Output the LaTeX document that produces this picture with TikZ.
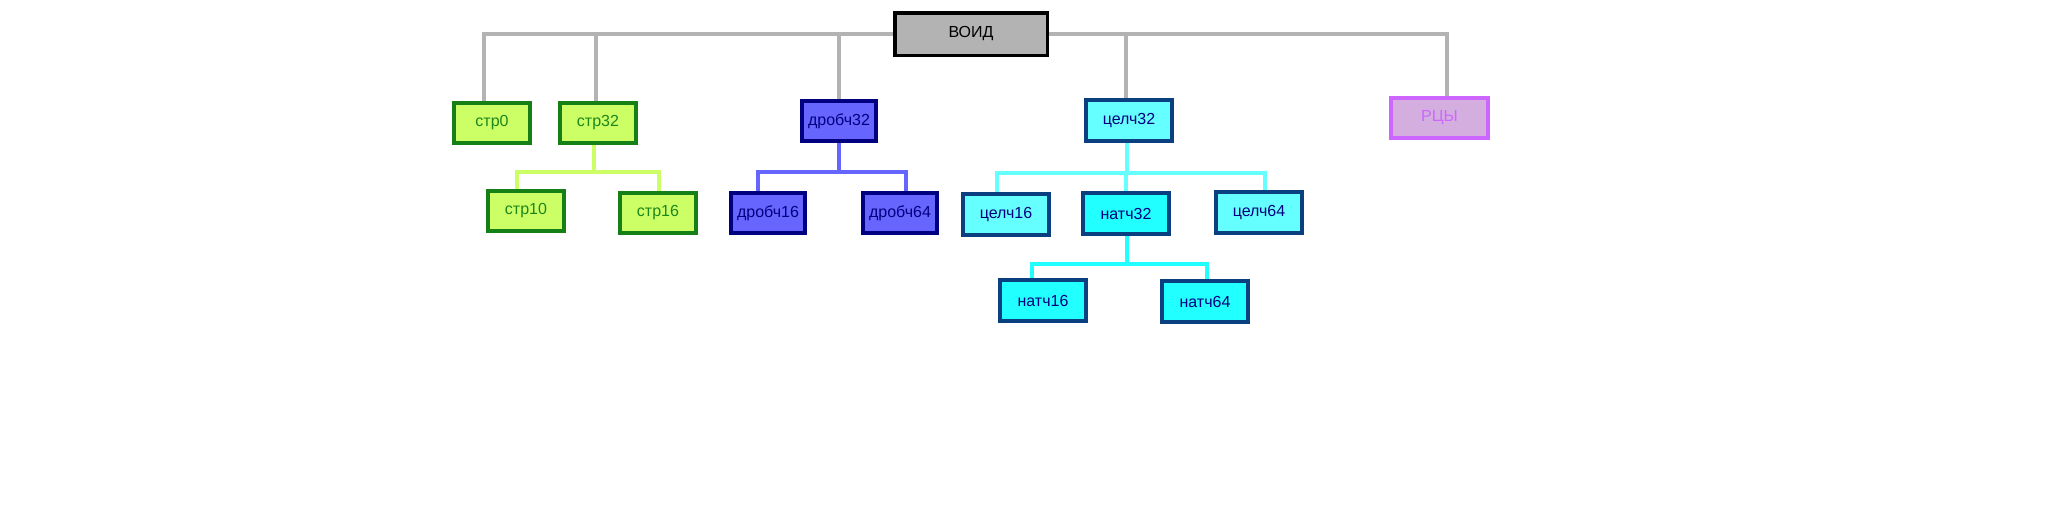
\documentclass[tikz,border=0pt]{standalone}
\usepackage{fontspec}
\setmainfont{Liberation Sans}
\usetikzlibrary{backgrounds}
\definecolor{gline}{HTML}{B3B3B3}
\definecolor{strfill}{HTML}{CCFF66}
\definecolor{strdraw}{HTML}{158015}
\definecolor{strtext}{HTML}{1C861C}
\definecolor{drfill}{HTML}{6666FF}
\definecolor{drdraw}{HTML}{000080}
\definecolor{clfill}{HTML}{66FFFF}
\definecolor{cldraw}{HTML}{0A4080}
\definecolor{ntfill}{HTML}{22FFFF}
\definecolor{rcfill}{HTML}{D5AEE0}
\definecolor{rcdraw}{HTML}{CC66FF}
\tikzset{
  box/.style={rectangle, inner sep=0pt, line width=4pt, font=\fontsize{16}{19}\selectfont},
  strbox/.style={box, fill=strfill, draw=strdraw, text=strtext, minimum width=76pt, minimum height=40pt},
  drbox/.style={box, fill=drfill, draw=drdraw, text=drdraw, minimum width=74pt, minimum height=40pt},
  clbox/.style={box, fill=clfill, draw=cldraw, text=drdraw, minimum width=86pt, minimum height=41pt},
  ntbox/.style={clbox, fill=ntfill},
  rcbox/.style={box, fill=rcfill, draw=rcdraw, text=rcdraw, minimum width=97pt, minimum height=40pt},
  voidbox/.style={box, fill=gline, draw=black, text=black, line width=3.5pt, minimum width=152.5pt, minimum height=42.5pt},
  gconn/.style={draw=gline, line width=4pt},
  sconn/.style={draw=strfill, line width=4pt},
  dconn/.style={draw=drfill, line width=4pt},
  cconn/.style={draw=clfill, line width=4pt},
  nconn/.style={draw=ntfill, line width=4pt},
}
\begin{document}
\begin{tikzpicture}[x=1pt,y=-1pt]
\useasboundingbox (0,0) rectangle (2048,512);
\node[voidbox] (void) at (971,34) {ВОИД};
\node[strbox] (str0) at (492,123) {стр0};
\node[strbox] (str32) at (598,122.5) {стр32};
\node[strbox] (str10) at (526,210.5) {стр10};
\node[strbox] (str16) at (658,212.5) {стр16};
\node[drbox] (dr32) at (839,121) {дробч32};
\node[drbox] (dr16) at (768,213) {дробч16};
\node[drbox] (dr64) at (900,213) {дробч64};
\node[clbox] (cl32) at (1129,120.5) {целч32};
\node[clbox] (cl16) at (1006,214.5) {целч16};
\node[ntbox] (nt32) at (1126,213.5) {натч32};
\node[clbox] (cl64) at (1259,212.5) {целч64};
\node[ntbox] (nt16) at (1043,300.5) {натч16};
\node[ntbox] (nt64) at (1205,301.5) {натч64};
\node[rcbox] (rc) at (1439.5,118) {РЦЫ};
\begin{scope}[on background layer]
\draw[gconn] (void.west) -| ([xshift=-8pt]str0.north);
\draw[gconn] (void.west) -| ([xshift=-2pt]str32.north);
\draw[gconn] (void.west) -| (dr32.north);
\draw[gconn] (void.east) -| ([xshift=-3pt]cl32.north);
\draw[gconn] (void.east) -| ([xshift=7.5pt]rc.north);
\draw[sconn] ([xshift=-4pt]str32.south) -- ++(0,27) -| ([xshift=-9pt]str10.north);
\draw[sconn] ([xshift=-4pt]str32.south) -- ++(0,27) -| ([xshift=1pt]str16.north);
\draw[dconn] (dr32.south) -- ++(0,29) -| ([xshift=-10pt]dr16.north);
\draw[dconn] (dr32.south) -- ++(0,29) -| ([xshift=6pt]dr64.north);
\draw[cconn] ([xshift=-2pt]cl32.south) -- ++(0,30) -| ([xshift=-9pt]cl16.north);
\draw[cconn] ([xshift=-2pt]cl32.south) -- ++(0,30) -| (nt32.north);
\draw[cconn] ([xshift=-2pt]cl32.south) -- ++(0,30) -| ([xshift=6pt]cl64.north);
\draw[nconn] ([xshift=1pt]nt32.south) -- ++(0,28) -| ([xshift=-11pt]nt16.north);
\draw[nconn] ([xshift=1pt]nt32.south) -- ++(0,28) -| ([xshift=2pt]nt64.north);
\end{scope}
\end{tikzpicture}
\end{document}
